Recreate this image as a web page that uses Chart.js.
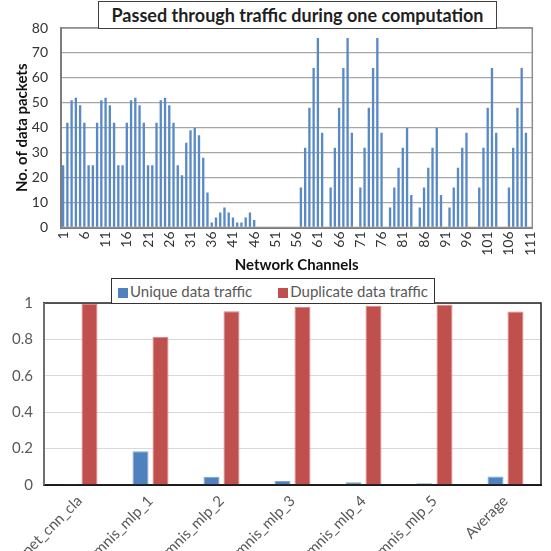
<!DOCTYPE html>
<html>
<head>
<meta charset="utf-8">
<script src="https://cdn.jsdelivr.net/npm/chart.js@4.4.1/dist/chart.umd.min.js"></script>
<style>
  html, body { margin: 0; padding: 0; background: #fff; }
  #wrap { position: relative; width: 551px; height: 551px; overflow: hidden; font-family: Lato, "Noto Sans", sans-serif; }
  #topBox { position: absolute; left: 0; top: 0; width: 551px; height: 275px; }
  #bottomBox { position: absolute; left: 0; top: 270px; width: 551px; height: 281px; }
  #title {
    position: absolute; left: 98px; top: 1px; width: 397px; height: 26px;
    border: 1.5px solid #3f3f3f; background: #fff;
    font: bold 18px Lato, sans-serif; color: #1f1f1f;
    text-align: center; line-height: 26px; white-space: nowrap; z-index: 2;
  }
  #legend {
    position: absolute; left: 111px; top: 278px; width: 322px; height: 24px;
    border: 1.2px solid #333; background: #fff; z-index: 2;
    display: flex; justify-content: center; align-items: center; gap: 26px;
    font: 15px Lato, sans-serif; color: #595959; white-space: nowrap;
  }
  #legend span.sw { display: inline-block; width: 10px; height: 10px; margin-right: 2px; vertical-align: -1px; }
</style>
</head>
<body>
<div id="wrap">
  <div id="topBox"><canvas id="traffic"></canvas></div>
  <div id="bottomBox"><canvas id="share"></canvas></div>
  <div id="title"></div>
  <div id="legend"></div>
</div>
<script>
// ---- data: packets passing through each network channel ----
const chartTitle = 'Passed through traffic during one computation';
const channels = Array.from({ length: 111 }, (_, i) => String(i + 1));
const packets = [
  25, 42, 51, 52, 49, 42, 25,
  25, 42, 51, 52, 49, 42, 25,
  25, 42, 51, 52, 49, 42, 25,
  25, 42, 51, 52, 49, 42, 25,
  21, 34, 39, 40, 37, 28, 14,
  2, 4, 6, 8, 6, 4, 2,
  2, 4, 6, 3, 0, 0, 0,
  0, 0, 0, 0, 0, 0, 0,
  16, 32, 48, 64, 76, 38, 0,
  16, 32, 48, 64, 76, 38, 0,
  16, 32, 48, 64, 76, 38, 0,
  8, 16, 24, 32, 40, 13, 0,
  8, 16, 24, 32, 40, 13, 0,
  8, 16, 24, 32, 38, 0, 0,
  16, 32, 48, 64, 38, 0, 0,
  16, 32, 48, 64, 38, 0
];
const packetTicks = [0, 10, 20, 30, 40, 50, 60, 70, 80];

// ---- data: unique vs duplicate share of traffic per workload ----
const workloads = ['net_cnn_cla', 'mnis_mlp_1', 'mnis_mlp_2', 'mnis_mlp_3', 'mnis_mlp_4', 'mnis_mlp_5', 'Average'];
const uniqueShare = [0.005, 0.185, 0.045, 0.022, 0.015, 0.009, 0.047];
const duplicateShare = [0.995, 0.815, 0.955, 0.978, 0.985, 0.991, 0.953];
const shareTicks = [0, 0.2, 0.4, 0.6, 0.8, 1];
const seriesNames = ['Unique data traffic', 'Duplicate data traffic'];
const seriesColors = ['#4F81BD', '#C0504D'];

const FONT = 'Lato, "Noto Sans", sans-serif';

// outline around the plotting area
const frame = {
  id: 'frame',
  afterDraw(chart, args, opts) {
    const { ctx, chartArea: a } = chart;
    ctx.save();
    ctx.lineWidth = opts.width || 1.5;
    ctx.strokeStyle = opts.color || '#808080';
    ctx.strokeRect(a.left, a.top, a.right - a.left, a.bottom - a.top);
    if (opts.leftColor) {
      ctx.strokeStyle = opts.leftColor;
      ctx.beginPath(); ctx.moveTo(a.left, a.top); ctx.lineTo(a.left, a.bottom); ctx.stroke();
    }
    ctx.restore();
  }
};

document.getElementById('title').textContent = chartTitle;
document.getElementById('legend').innerHTML = seriesNames.map((n, i) =>
  '<span><span class="sw" style="background:' + seriesColors[i] + '"></span>' + n + '</span>').join('');

new Chart(document.getElementById('traffic'), {
  type: 'bar',
  data: {
    labels: channels,
    datasets: [{
      data: packets,
      backgroundColor: '#5A8AC6',
      borderWidth: 0,
      barPercentage: 0.55,
      categoryPercentage: 1.0
    }]
  },
  options: {
    responsive: true,
    maintainAspectRatio: false,
    animation: false,
    layout: { padding: { left: 0, right: 4, top: 28, bottom: 0 } },
    plugins: { legend: { display: false }, tooltip: { enabled: false }, frame: { color: '#8c8c8c', width: 1.5, leftColor: '#7a7a7a' } },
    scales: {
      x: {
        grid: { display: false, drawTicks: false },
        border: { display: true, color: '#7a7a7a', width: 2 },
        ticks: {
          autoSkip: false, minRotation: 90, maxRotation: 90, padding: 4,
          color: '#333', font: { family: FONT, size: 14 },
          callback: (v, i) => (i % 5 === 0 ? channels[i] : '')
        },
        title: { display: true, text: 'Network Channels', color: '#111', font: { family: FONT, size: 15, weight: 'bold' }, padding: { top: 0, bottom: 1 } },
        afterFit: s => { s.height = 275 - 227.5; }
      },
      y: {
        min: 0, max: 80,
        afterBuildTicks: s => { s.ticks = packetTicks.map(v => ({ value: v })); },
        grid: { color: '#a6a6a6', lineWidth: 1.3, drawTicks: false },
        border: { display: true, color: '#7a7a7a', width: 2 },
        ticks: { padding: 13, color: '#333', font: { family: FONT, size: 14 } },
        title: { display: true, text: 'No. of data packets', color: '#111', font: { family: FONT, size: 15, weight: 'bold' }, padding: { top: 13, bottom: 0 } },
        afterFit: s => { s.width = 61; }
      }
    }
  },
  plugins: [frame]
});

new Chart(document.getElementById('share'), {
  type: 'bar',
  data: {
    labels: workloads,
    datasets: [
      { label: seriesNames[0], data: uniqueShare, backgroundColor: seriesColors[0], borderColor: '#7ea3d3', borderWidth: 1 },
      { label: seriesNames[1], data: duplicateShare, backgroundColor: seriesColors[1], borderColor: '#d98583', borderWidth: 1 }
    ]
  },
  options: {
    responsive: true,
    maintainAspectRatio: false,
    animation: false,
    datasets: { bar: { categoryPercentage: 0.563, barPercentage: 0.8 } },
    layout: { padding: { left: 0, right: 10, top: 33, bottom: 0 } },
    plugins: { legend: { display: false }, tooltip: { enabled: false }, frame: { color: '#222', width: 1.5, leftColor: '#808080' } },
    scales: {
      x: {
        grid: { display: false, drawTicks: false },
        border: { display: true, color: '#111', width: 2 },
        ticks: { autoSkip: false, minRotation: 45, maxRotation: 45, padding: 7, color: '#595959', font: { family: FONT, size: 15 } },
        afterFit: s => { s.height = 281 - 215; }
      },
      y: {
        min: 0, max: 1,
        afterBuildTicks: s => { s.ticks = shareTicks.map(v => ({ value: v })); },
        ticks: { padding: 11, color: '#595959', font: { family: FONT, size: 15 }, callback: v => String(Math.round(v * 10) / 10) },
        grid: { color: '#d9d9d9', lineWidth: 1, drawTicks: false },
        border: { display: true, color: '#808080', width: 1.5 },
        afterFit: s => { s.width = 44; }
      }
    }
  },
  plugins: [frame]
});
</script>
</body>
</html>
